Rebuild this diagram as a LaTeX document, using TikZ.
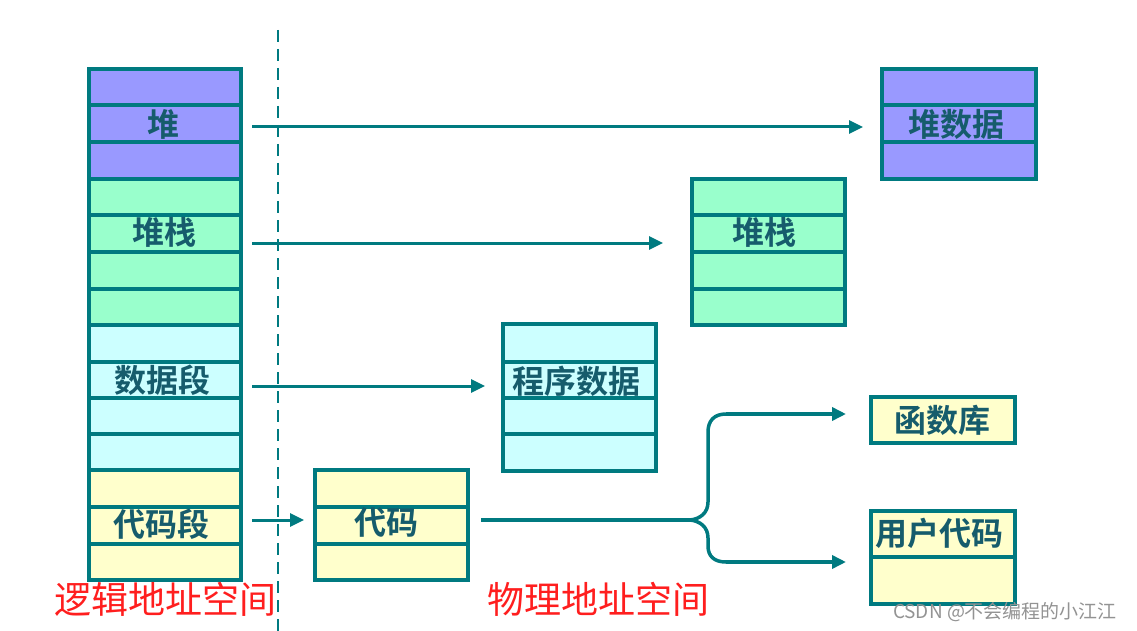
\documentclass[tikz,border=0pt]{standalone}
\usepackage{fontspec}
\usetikzlibrary{arrows.meta}
\newfontfamily\cjkb{Noto Sans CJK SC Bold}
\newfontfamily\cjk{Noto Sans CJK SC}
\definecolor{teal1}{RGB}{0,122,128}
\definecolor{txtc}{RGB}{22,92,108}
\definecolor{heapc}{RGB}{153,153,255}
\definecolor{stackc}{RGB}{153,255,204}
\definecolor{datac}{RGB}{204,255,255}
\definecolor{codec}{RGB}{255,255,204}
\definecolor{redc}{RGB}{255,30,30}
\newcommand\segbox[7]{%
  \node[seg,fill=#2,minimum width={#5-#3},minimum height={#6-#4},anchor=north west] (#1) at (#3,#4) {};
  \foreach \yy in {#7} {\draw[rowline] (#3,\yy) -- (#5,\yy);}
  \node[seg,minimum width={#5-#3},minimum height={#6-#4},anchor=north west] at (#3,#4) {};
}
\tikzset{
  seg/.style={draw=teal1,line width=3.5pt,inner sep=0pt,outer sep=0pt},
  rowline/.style={draw=teal1,line width=3.5pt},
  lbl/.style={text=txtc,font=\cjkb\fontsize{32}{32}\selectfont,inner sep=0pt},
  red/.style={text=redc,font=\cjk\fontsize{37}{37}\selectfont,inner sep=0pt},
  arr/.style={draw=teal1,line width=3pt,-{Triangle[length=14pt,width=13pt]}},
  conn/.style={draw=teal1,line width=3.5pt},
}
\begin{document}
\begin{tikzpicture}[x=1pt,y=-1pt]
\useasboundingbox (0,0) rectangle (1137,631);
\fill[white] (0,0) rectangle (1137,631);
% dashed divider
\draw[teal1,line width=2pt,dash pattern=on 12pt off 7pt] (278,30) -- (278,631);
% left column
\segbox{L1}{heapc}{89}{69}{241}{179}{105,142}
\segbox{L2}{stackc}{89}{179}{241}{325}{215,252,289}
\segbox{L3}{datac}{89}{325}{241}{470}{362,398,434}
\segbox{L4}{codec}{89}{470}{241}{580}{507,544}
\node[lbl] (tL1) at (163,124) {堆};
\node[lbl] (tL2) at (164,232) {堆栈};
\node[lbl] (tL3) at (162,380) {数据段};
\node[lbl] (tL4) at (161,524) {代码段};
% physical boxes
\segbox{P1}{heapc}{882}{69}{1036}{179}{105,142}
\segbox{P2}{stackc}{692}{179}{845}{325}{215,252,289}
\segbox{P3}{datac}{503}{324}{656}{471}{362,398,434}
\segbox{P4}{codec}{315}{470}{468}{580}{507,544}
\node[seg,fill=codec,minimum width=144pt,minimum height=46pt,anchor=north west] (P5) at (871,397) {};
\segbox{P6}{codec}{871}{511}{1015}{604}{557}
\node[lbl] (tP1) at (956,124) {堆数据};
\node[lbl] (tP2) at (764,232) {堆栈};
\node[lbl] (tP3) at (576,381) {程序数据};
\node[lbl] (tP4) at (386,522) {代码};
\node[lbl] (tP5) at (942,420) {函数库};
\node[lbl] (tP6) at (939,533) {用户代码};
% arrow endpoints
\coordinate (a1) at (252,127); \coordinate (b1) at (863,127);
\coordinate (a2) at (252,243); \coordinate (b2) at (663,243);
\coordinate (a3) at (252,386); \coordinate (b3) at (485,386);
\coordinate (a4) at (252,520); \coordinate (b4) at (304,520);
\draw[arr] (a1) -- (b1);
\draw[arr] (a2) -- (b2);
\draw[arr] (a3) -- (b3);
\draw[arr] (a4) -- (b4);
% code split
\coordinate (c0) at (481,520);
\coordinate (c1) at (690,520);
\coordinate (u) at (846,414);
\coordinate (d) at (846,562);
\draw[conn] (c0) -- (c1);
\draw[conn] (c1) .. controls (700,519) and (708,513) .. (708,502) -- (708,432)
  .. controls (708,421) and (714,414) .. (726,414);
\draw[arr,line width=3.5pt] (726,414) -- (u);
\draw[conn] (c1) .. controls (700,521) and (708,527) .. (708,538) -- (708,546)
  .. controls (708,556) and (714,562) .. (726,562);
\draw[arr,line width=3.5pt] (726,562) -- (d);
% labels
\node[red] (r1) at (165,599) {逻辑地址空间};
\node[red] (r2) at (598,599) {物理地址空间};
\node[text=gray!85,font=\cjk\fontsize{19}{19}\selectfont,inner sep=0pt] (wm) at (1005,612) {CSDN @不会编程的小江江};
\end{tikzpicture}
\end{document}
